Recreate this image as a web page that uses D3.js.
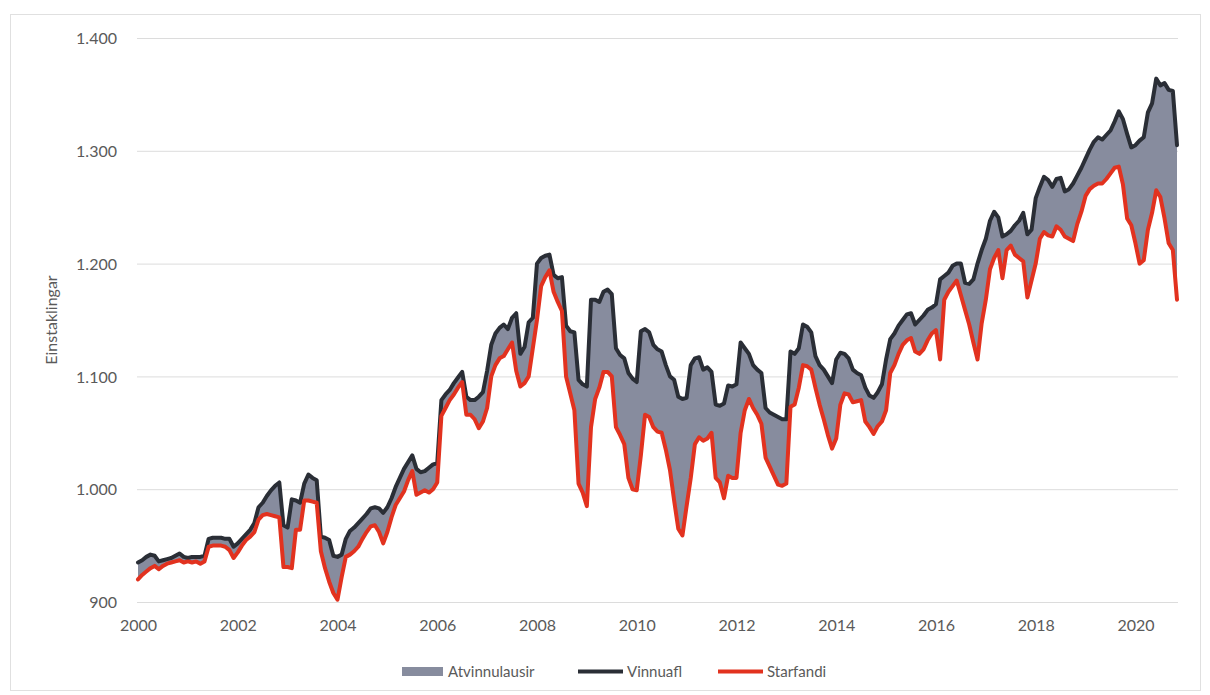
<!DOCTYPE html>
<html><head><meta charset="utf-8">
<script src="https://cdn.jsdelivr.net/npm/d3@7"></script>
<style>body{margin:0;background:#fff;} text{font-family:Lato,"Open Sans",sans-serif;}</style>
</head><body><svg id="c" width="1210" height="695"></svg>
<script>
const startYear = 2000;
const vinnuafl = [
935,937,940,942,941,936,937,938,939,941,943,940,
939,940,940,940,941,956,957,957,957,956,956,949,
952,956,960,964,970,984,988,994,999,1003,1006,968,
966,991,990,988,1005,1013,1010,1008,958,957,955,941,
940,942,956,963,966,970,974,978,983,984,983,979,
984,992,1002,1010,1018,1024,1030,1018,1015,1016,1019,1022,
1023,1079,1084,1088,1094,1099,1104,1082,1079,1079,1082,1086,
1105,1128,1138,1143,1146,1142,1152,1156,1120,1126,1148,1152,
1200,1205,1207,1208,1190,1187,1188,1145,1140,1139,1097,1093,
1091,1168,1168,1166,1175,1177,1173,1125,1119,1116,1103,1098,
1095,1140,1142,1139,1128,1124,1122,1110,1100,1097,1082,1080,
1081,1110,1116,1117,1106,1108,1104,1075,1074,1076,1092,1091,
1093,1130,1125,1120,1110,1106,1103,1072,1068,1066,1064,1062,
1062,1122,1120,1125,1146,1144,1139,1118,1110,1106,1100,1094,
1115,1121,1120,1116,1106,1103,1101,1090,1083,1081,1086,1093,
1115,1133,1138,1145,1150,1155,1156,1146,1150,1154,1159,1161,
1164,1186,1189,1192,1198,1200,1200,1183,1182,1186,1200,1212,
1222,1238,1246,1241,1224,1226,1229,1234,1238,1245,1226,1230,
1258,1268,1277,1274,1268,1275,1276,1264,1266,1271,1278,1285,
1293,1301,1308,1312,1310,1314,1318,1326,1335,1328,1315,1303,
1305,1309,1312,1334,1342,1364,1358,1360,1354,1353,1305
];
const starfandi = [
920,924,927,930,932,929,932,934,935,936,937,935,
936,935,936,934,936,949,950,950,950,949,946,939,
944,950,955,958,962,973,977,978,977,976,975,931,
931,930,964,964,990,990,989,988,945,930,918,908,
902,922,940,942,945,949,956,962,967,968,962,952,
962,975,986,992,998,1008,1016,995,997,999,997,1000,
1006,1065,1072,1079,1084,1090,1095,1066,1066,1062,1054,1060,
1072,1100,1110,1116,1118,1124,1130,1105,1091,1094,1100,1125,
1150,1180,1188,1194,1175,1166,1158,1100,1085,1070,1005,997,
985,1055,1080,1090,1104,1104,1100,1055,1048,1040,1010,1000,
999,1030,1066,1064,1055,1051,1050,1035,1017,990,965,959,
985,1010,1040,1046,1043,1045,1050,1010,1006,992,1012,1010,
1010,1050,1070,1080,1072,1066,1058,1028,1020,1012,1004,1003,
1005,1073,1075,1090,1110,1109,1106,1090,1075,1062,1048,1036,
1045,1075,1085,1084,1077,1078,1079,1060,1055,1049,1056,1060,
1070,1103,1110,1120,1128,1132,1134,1122,1120,1124,1132,1138,
1141,1115,1168,1175,1180,1185,1172,1159,1146,1130,1115,1147,
1168,1195,1205,1212,1187,1212,1216,1208,1205,1202,1170,1185,
1200,1222,1228,1225,1224,1233,1230,1224,1222,1220,1235,1246,
1260,1266,1269,1271,1271,1275,1280,1285,1286,1270,1240,1234,
1218,1200,1203,1230,1245,1265,1259,1240,1218,1212,1168
];
const yTicks = [900,1000,1100,1200,1300,1400];
const xTickYears = [2000,2002,2004,2006,2008,2010,2012,2014,2016,2018,2020];
const seriesNames = ["Atvinnulausir","Vinnuafl","Starfandi"];
const colors = {fill:"#878c9e", dark:"#2a2e36", red:"#e2321f", grid:"#dcdcdc", text:"#5a5a5a"};

const svg = d3.select("#c");
svg.append("rect").attr("x",10.5).attr("y",14.5).attr("width",1190).attr("height",676)
  .attr("fill","none").attr("stroke","#e0e0e0");

const n = vinnuafl.length;
const x = d3.scaleLinear().domain([0, n-1]).range([138, 1177]);
const y = d3.scaleLinear().domain([900, 1400]).range([602, 38]);
const fmt = v => d3.format(",")(v).replace(/,/g, ".");

// grid
svg.append("g").selectAll("line").data(yTicks).join("line")
  .attr("x1",137).attr("x2",1178).attr("y1",d=>y(d)+0.5).attr("y2",d=>y(d)+0.5)
  .attr("stroke",colors.grid).attr("stroke-width",1);

// y axis
const yAxis = d3.axisLeft(y).tickValues(yTicks).tickFormat(fmt).tickSize(0).tickPadding(0);
const gy = svg.append("g").attr("transform","translate(117,0)").call(yAxis);
gy.select(".domain").remove();
gy.selectAll("text").attr("fill",colors.text).style("font-size","16px").attr("dy","0.35em");

// x axis
const xTickIdx = xTickYears.map(yr => (yr - startYear) * 12);
const xAxis = d3.axisBottom(x).tickValues(xTickIdx).tickFormat(i => startYear + i/12).tickSize(0).tickPadding(0);
const gx = svg.append("g").attr("transform","translate(0,620)").call(xAxis);
gx.select(".domain").remove();
gx.selectAll("text").attr("fill",colors.text).style("font-size","16px").attr("dy","0.71em");

// y title
svg.append("text").attr("transform","translate(57,320) rotate(-90)").attr("text-anchor","middle")
  .attr("fill",colors.text).style("font-size","16px").text("Einstaklingar");

const idx = d3.range(n);
const area = d3.area().x(i=>x(i)).y0(i=>y(starfandi[i])).y1(i=>y(vinnuafl[i]));
svg.append("path").datum(idx).attr("d",area).attr("fill",colors.fill);
const lineV = d3.line().x(i=>x(i)).y(i=>y(vinnuafl[i]));
const lineR = d3.line().x(i=>x(i)).y(i=>y(starfandi[i]));
svg.append("path").datum(idx).attr("d",lineV).attr("fill","none").attr("stroke",colors.dark)
  .attr("stroke-width",4).attr("stroke-linejoin","round").attr("stroke-linecap","round");
svg.append("path").datum(idx).attr("d",lineR).attr("fill","none").attr("stroke",colors.red)
  .attr("stroke-width",4).attr("stroke-linejoin","round").attr("stroke-linecap","round");

// legend
const lg = svg.append("g").style("font-size","15px");
const items = [
  {name:seriesNames[0], type:"rect", color:colors.fill, x:402, tx:448},
  {name:seriesNames[1], type:"line", color:colors.dark, x:578, tx:627},
  {name:seriesNames[2], type:"line", color:colors.red, x:718, tx:767}
];
items.forEach(it => {
  if (it.type === "rect") {
    lg.append("rect").attr("x",it.x).attr("y",667).attr("width",41).attr("height",9).attr("fill",it.color);
  } else {
    lg.append("line").attr("x1",it.x).attr("x2",it.x+45).attr("y1",671.5).attr("y2",671.5)
      .attr("stroke",it.color).attr("stroke-width",4);
  }
  lg.append("text").attr("x",it.tx).attr("y",671.5).attr("dy","0.35em").attr("fill",colors.text).text(it.name);
});
</script></body></html>
